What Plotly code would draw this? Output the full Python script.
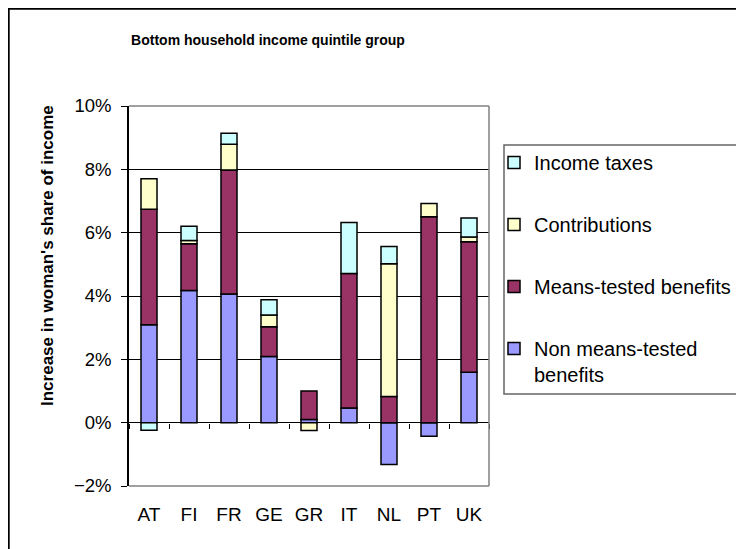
import plotly.graph_objects as go

countries = ["AT", "FI", "FR", "GE", "GR", "IT", "NL", "PT", "UK"]
non_means_tested = [3.09, 4.17, 4.06, 2.09, 0.10, 0.46, -1.32, -0.43, 1.59]
means_tested = [3.65, 1.48, 3.92, 0.94, 0.90, 4.25, 0.83, 6.50, 4.12]
contributions = [0.96, 0.10, 0.81, 0.37, -0.25, None, 4.19, 0.42, 0.15]
income_taxes = [-0.24, 0.45, 0.35, 0.48, None, 1.61, 0.54, None, 0.60]

series = [
    ("Non means-tested<br>benefits", non_means_tested, "#9999FF", 4),
    ("Means-tested benefits", means_tested, "#993366", 3),
    ("Contributions", contributions, "#FFFFCC", 2),
    ("Income taxes", income_taxes, "#CCFFFF", 1),
]

FONT = "Liberation Sans, Arial, sans-serif"

# screen positions of the plot area (page has an 8px body margin)
OFF = 8
PL, PR, PT, PB = 129, 489, 106, 486
PW, PH = PR - PL, PB - PT

def px(x):
    return (x - PL) / PW

def py(y):
    return (PB - y) / PH

fig = go.Figure()
for i, (name, vals, color, rank) in enumerate(series):
    fig.add_trace(go.Bar(
        x=countries, y=vals, name=name, legendgroup=f"g{i}", legendrank=rank,
        marker=dict(color=color, line=dict(color="black", width=1.5)),
    ))

# ticks between categories on the zero line
fig.add_trace(go.Scatter(x=[0], y=[None], xaxis="x2", showlegend=False,
                         hoverinfo="skip", mode="markers"))

fig.update_layout(
    width=744, height=549,
    margin=dict(l=PL - OFF, r=744 - (PR - OFF), t=PT - OFF, b=549 - (PB - OFF)),
    paper_bgcolor="white", plot_bgcolor="white",
    barmode="relative", bargap=0.6,
    font=dict(family=FONT, color="black"),
    title=dict(text="<b>Bottom household income quintile group</b>",
               x=(268 - OFF) / 744, xref="container", xanchor="center",
               y=1 - (40 - OFF) / 549, yref="container", yanchor="middle",
               font=dict(size=14, family=FONT, color="black")),
    xaxis=dict(type="category", range=[-0.5, 8.5], showgrid=False,
               showline=False, ticks="", tickfont=dict(size=19),
               ticklabelstandoff=15),
    xaxis2=dict(overlaying="x", anchor="free", position=2/12,
                range=[-0.5, 8.5], tickmode="linear", tick0=-0.5, dtick=1,
                ticks="outside", ticklen=5, tickcolor="black", tickwidth=1,
                showticklabels=False, showgrid=False, showline=False,
                zeroline=False),
    yaxis=dict(range=[-2, 10], dtick=2, ticksuffix="%",
               showgrid=True, gridcolor="black", gridwidth=1,
               zeroline=True, zerolinecolor="black", zerolinewidth=1,
               showline=True, linecolor="black", linewidth=1.5,
               ticks="outside", ticklen=6, tickcolor="black",
               tickfont=dict(size=18.5), ticklabelstandoff=6),
    legend=dict(x=px(494), xanchor="left", y=py(143),
                yanchor="top", bgcolor="rgba(0,0,0,0)", borderwidth=0,
                font=dict(size=20, family=FONT, color="black"),
                traceorder="grouped", tracegroupgap=33,
                valign="top"),
    annotations=[dict(text="<b>Increase in woman's share of income</b>",
                      textangle=-90, xref="paper", yref="paper",
                      x=px(47), y=py(256),
                      xanchor="center", yanchor="middle", showarrow=False,
                      font=dict(size=17, family=FONT, color="black"))],
    shapes=[
        # plot area border (grey) top, right, bottom
        dict(type="line", xref="paper", yref="paper", x0=0, x1=1, y0=1, y1=1,
             line=dict(color="#808080", width=1.5), layer="above"),
        dict(type="line", xref="paper", yref="paper", x0=1, x1=1, y0=0, y1=1,
             line=dict(color="#808080", width=1.5), layer="above"),
        dict(type="line", xref="paper", yref="paper", x0=0, x1=1, y0=0, y1=0,
             line=dict(color="#808080", width=1.5), layer="above"),
        # legend box
        dict(type="rect", xref="paper", yref="paper",
             x0=px(504), x1=px(770), y0=py(394), y1=py(145),
             line=dict(color="#666666", width=1.5), fillcolor="rgba(0,0,0,0)"),
        # outer chart frame
        dict(type="rect", xref="paper", yref="paper",
             x0=px(8.8), x1=px(780), y0=py(580), y1=py(8.8),
             line=dict(color="black", width=1.8), fillcolor="rgba(0,0,0,0)"),
    ],
)

fig.write_html("out.html")
